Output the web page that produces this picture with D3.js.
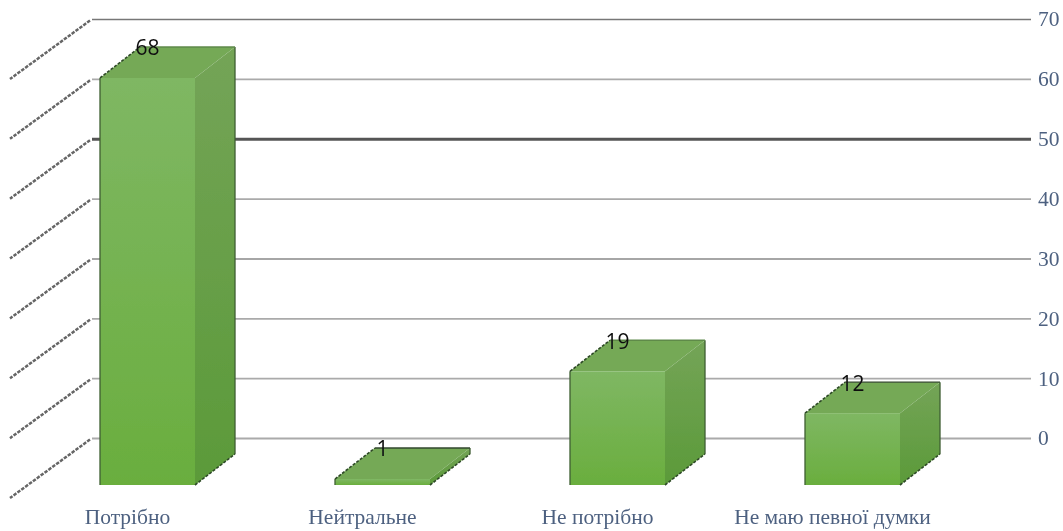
<!DOCTYPE html>
<html><head><meta charset="utf-8">
<script src="https://d3js.org/d3.v7.min.js"></script>
<style>html,body{margin:0;padding:0;background:#fff}svg{display:block}</style>
</head><body><svg id="c" width="1063" height="531"></svg>
<script>
const categories = ["Потрібно","Нейтральне","Не потрібно","Не маю певної думки"];
const values = [68,1,19,12];
const yTicks = [0,10,20,30,40,50,60,70];

const W=1063,H=531;
const svg=d3.select("#c");
const y=d3.scaleLinear().domain([0,70]).range([438,19]);
const x=d3.scaleBand().domain(categories).range([10,950]);
const floorY=485, barW=95, barOff=x.bandwidth()/2-27.5, depthX=40, depthY=31, wallX=-82, wallY=60;

const defs=svg.append("defs");
function grad(id,a,b){const g=defs.append("linearGradient").attr("id",id).attr("x1",0).attr("y1",0).attr("x2",0).attr("y2",1);
 g.append("stop").attr("offset",0).attr("stop-color",a);g.append("stop").attr("offset",1).attr("stop-color",b);}
grad("front","#7fb763","#6aae3e");
grad("side","#74a457","#5b9a39");
const soft=defs.append("filter").attr("id","soft");soft.append("feGaussianBlur").attr("stdDeviation",0.5);

const root=svg.append("g").attr("filter","url(#soft)");

// side wall dashed lines
root.append("g").selectAll("line").data(yTicks).join("line")
 .attr("x1",90).attr("y1",d=>y(d)+1.5).attr("x2",92+wallX).attr("y2",d=>y(d)+wallY)
 .attr("stroke","#666").attr("stroke-width",2.5).attr("stroke-dasharray","3.5 1.3");

// back wall grid + right axis
const ax=root.append("g").attr("transform","translate(1031,0)")
 .call(d3.axisRight(y).tickValues(yTicks).tickSize(-939).tickPadding(7));
ax.select(".domain").remove();
ax.selectAll(".tick line")
 .attr("stroke",d=>d===50?"#555":d===70?"#777":d===30?"#888":"#aaa")
 .attr("stroke-width",d=>d===50?3:d===70||d===30?1.6:1.8);
ax.selectAll(".tick text")
 .attr("font-family","'Liberation Serif',serif").attr("font-size",21.5).attr("fill","#4d6180");

// bars
const bar=root.append("g").selectAll("g").data(categories.map((c,i)=>({c,v:values[i]}))).join("g");
const L=d=>x(d.c)+barOff, R=d=>L(d)+barW, T=d=>floorY-(y(0)-y(d.v));
bar.append("path").attr("fill","#74a957")
 .attr("d",d=>`M${L(d)},${T(d)}L${L(d)+depthX},${T(d)-depthY}L${R(d)+depthX},${T(d)-depthY}L${R(d)},${T(d)}Z`);
bar.append("path").attr("fill","url(#side)")
 .attr("d",d=>`M${R(d)},${T(d)}L${R(d)+depthX},${T(d)-depthY}L${R(d)+depthX},${floorY-depthY}L${R(d)},${floorY}Z`);
bar.append("rect").attr("fill","url(#front)")
 .attr("x",L).attr("y",T).attr("width",barW).attr("height",d=>floorY-T(d));
// edges
bar.append("path").attr("fill","none").attr("stroke","#3f5f33").attr("stroke-width",1.3)
 .attr("d",d=>`M${L(d)},${floorY}L${L(d)},${T(d)}M${R(d)+depthX},${floorY-depthY}L${R(d)+depthX},${T(d)-depthY}`);
bar.append("path").attr("fill","none").attr("stroke",d=>d.v<=1||d.v===12?"#33492c":"#5f8a4a").attr("stroke-width",1.4)
 .attr("d",d=>`M${L(d)+depthX},${T(d)-depthY}L${R(d)+depthX},${T(d)-depthY}`);
bar.append("path").attr("fill","none").attr("stroke","#2f4a28").attr("stroke-width",1.6).attr("stroke-dasharray","3 1.5")
 .attr("d",d=>`M${L(d)},${T(d)}L${L(d)+depthX},${T(d)-depthY}M${R(d)},${floorY}L${R(d)+depthX},${floorY-depthY}`);
// value labels
bar.append("text").text(d=>d.v)
 .attr("x",d=>L(d)+barW/2).attr("y",d=>T(d)-depthY+1).attr("dy","0.35em").attr("text-anchor","middle")
 .attr("font-family","'Open Sans',sans-serif").attr("font-size",21).attr("fill","#111");

// category axis
const cx=root.append("g").attr("transform",`translate(0,${floorY})`)
 .call(d3.axisBottom(x).tickSize(0).tickPadding(24));
cx.select(".domain").remove();
cx.selectAll(".tick text")
 .attr("font-family","'Liberation Serif',serif").attr("font-size",21.5).attr("fill","#4d6180");
</script></body></html>
